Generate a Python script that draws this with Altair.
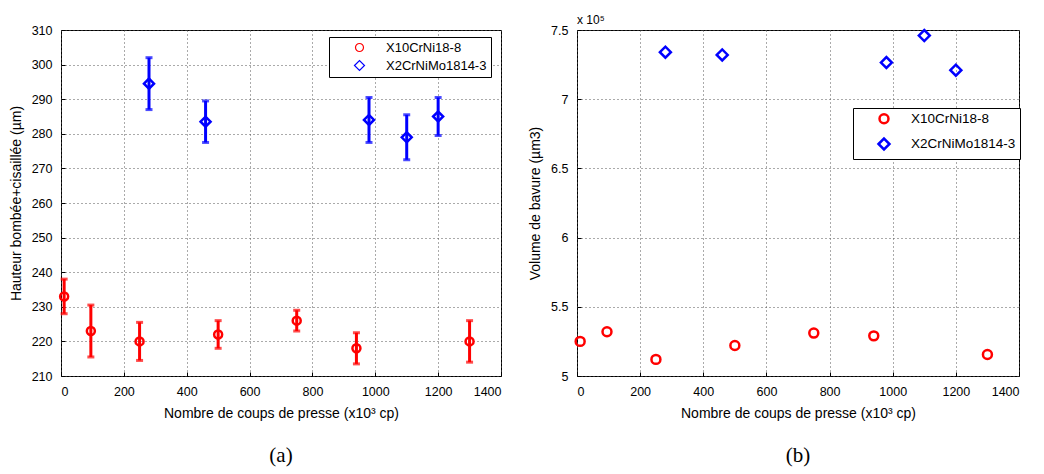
import altair as alt
import pandas as pd

series = ["X10CrNi18-8", "X2CrNiMo1814-3"]
colors = ["#ff0000", "#0000ff"]
shapes = ["circle", "diamond"]

# panel (a): height (µm) with error bars
x_red = [10, 95, 250, 500, 750, 940, 1300]
h_red = [233, 223, 220, 222, 226, 218, 220]
h_red_lo = [228, 215.5, 214.5, 218, 223, 213.5, 214]
h_red_hi = [238, 230.5, 225.5, 226, 229, 222.5, 226]

x_blue = [280, 460, 980, 1100, 1200]
h_blue = [294.5, 283.5, 284, 279, 285]
h_blue_lo = [287, 277.5, 277.5, 272.5, 279.5]
h_blue_hi = [302, 289.5, 290.5, 285.5, 290.5]

# panel (b): burr volume (µm3)
v_red = [525000, 532000, 512000, 522000, 531000, 529000, 515500]
v_blue = [734000, 732000, 726500, 746000, 721000]

x_ticks = [0, 200, 400, 600, 800, 1000, 1200, 1400]
h_ticks = [210, 220, 230, 240, 250, 260, 270, 280, 290, 300, 310]
v_ticks = [500000, 550000, 600000, 650000, 700000, 750000]

df_h = pd.DataFrame({
    "x": x_red + x_blue,
    "y": h_red + h_blue,
    "lo": h_red_lo + h_blue_lo,
    "hi": h_red_hi + h_blue_hi,
    "serie": [series[0]] * len(x_red) + [series[1]] * len(x_blue),
})
df_v = pd.DataFrame({
    "x": x_red + x_blue,
    "y": v_red + v_blue,
    "serie": [series[0]] * len(x_red) + [series[1]] * len(x_blue),
})

FONT = "Liberation Sans"
xtitle = "Nombre de coups de presse (x10³ cp)"

color_scale = alt.Scale(domain=series, range=colors)
shape_scale = alt.Scale(domain=series, range=shapes)
TICK = 4

def x_enc():
    return alt.X("x:Q", scale=alt.Scale(domain=[0, 1400], nice=False),
                 axis=alt.Axis(values=x_ticks, title=xtitle, format="d",
                               offset=-TICK, tickSize=TICK, labelPadding=5 + TICK,
                               titlePadding=9))

def legend(x, y, sw, ss, rowpad, fs):
    return alt.Legend(title=None, orient="none", legendX=x, legendY=y,
                      strokeColor="black", fillColor="white", padding=4,
                      symbolOffset=20, labelOffset=20, rowPadding=rowpad,
                      symbolStrokeWidth=sw, symbolSize=ss, labelFontSize=fs,
                      labelFont=FONT, labelColor="black", cornerRadius=0)

h_axis = alt.Axis(values=h_ticks, title="Hauteur bombée+cisaillée (µm)",
                  offset=-TICK, tickSize=TICK, labelPadding=5 + TICK)
h_scale = alt.Scale(domain=[210, 310], nice=False)
leg_a = legend(268, 7, 1.2, 70, 3, 13)

base_h = alt.Chart(df_h)
err_layers = [
    base_h.transform_filter(alt.datum.serie == s).mark_errorbar(
        ticks=True, thickness=3, size=7, color=c
    ).encode(
        x=x_enc(),
        y=alt.Y("lo:Q", scale=h_scale, axis=h_axis),
        y2="hi:Q",
    )
    for s, c in zip(series, colors)
]
pts_h = base_h.mark_point(filled=False, strokeWidth=2.5, opacity=1).encode(
    x=x_enc(),
    y=alt.Y("y:Q", scale=h_scale, axis=h_axis),
    color=alt.Color("serie:N", scale=color_scale, legend=leg_a),
    shape=alt.Shape("serie:N", scale=shape_scale, legend=leg_a),
    size=alt.Size("serie:N", scale=alt.Scale(domain=series, range=[64, 100]), legend=None),
)
left = alt.layer(*err_layers, pts_h).properties(
    width=440, height=346,
    title=alt.TitleParams("(a)", orient="bottom", font="Liberation Serif",
                          fontSize=21, fontWeight="normal", offset=24),
)

leg_b = legend(276, 78, 2.5, 80, 4, 13.5)
base_v = alt.Chart(df_v)
pts_v = base_v.mark_point(filled=False, strokeWidth=2.5, opacity=1).encode(
    x=x_enc(),
    y=alt.Y("y:Q", scale=alt.Scale(domain=[500000, 750000], nice=False),
            axis=alt.Axis(values=v_ticks, title="Volume de bavure (µm3)",
                          labelExpr="datum.value / 100000",
                          offset=-TICK, tickSize=TICK, labelPadding=5 + TICK)),
    color=alt.Color("serie:N", scale=color_scale, legend=leg_b),
    shape=alt.Shape("serie:N", scale=shape_scale, legend=leg_b),
    size=alt.Size("serie:N", scale=alt.Scale(domain=series, range=[80, 120]), legend=None),
)
expo = base_v.mark_text(align="left", baseline="bottom", font=FONT, fontSize=12,
                        color="black").encode(
    x=alt.value(0), y=alt.value(-3), text=alt.value("x 10⁵")
).transform_filter("datum.x == 10")
right = alt.layer(pts_v, expo).properties(
    width=442, height=346,
    title=alt.TitleParams("(b)", orient="bottom", font="Liberation Serif",
                          fontSize=21, fontWeight="normal", offset=24),
)

chart = alt.hconcat(left, right, spacing=26).resolve_scale(
    color="independent", shape="independent", size="independent"
).properties(
    padding={"top": 5, "left": 0, "right": 2, "bottom": 2},
    background="white",
).configure_view(
    stroke="black", strokeWidth=1
).configure_axis(
    grid=True, gridColor="#555555", gridDash=[1, 3], gridWidth=1, gridOpacity=1,
    domain=False, ticks=True, tickColor="black", tickWidth=1, labelOverlap=False,
    labelFont=FONT, labelFontSize=12.5, labelColor="black",
    titleFont=FONT, titleFontSize=14, titleFontWeight="normal", titleColor="black",
    titlePadding=8,
)

chart.save("out.html", embed_options={"renderer": "svg", "actions": False})
